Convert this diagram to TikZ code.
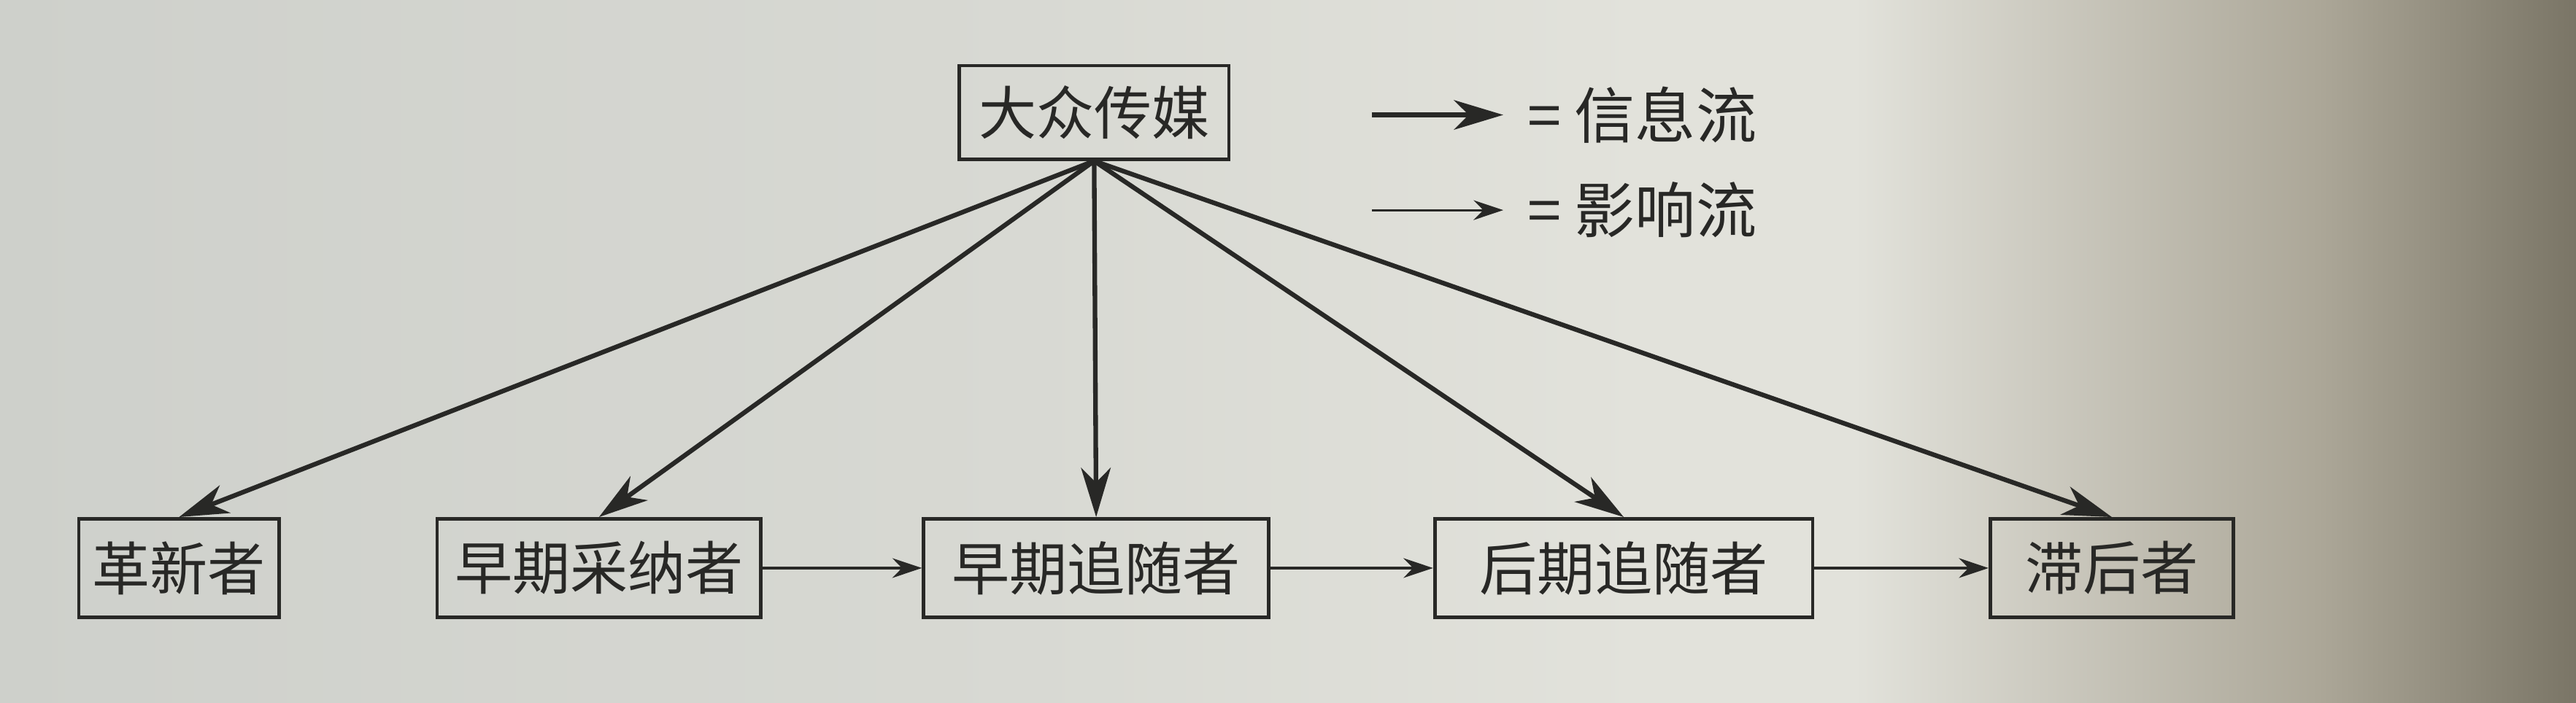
\documentclass[tikz,border=0pt]{standalone}
\usepackage{fontspec}
\newfontfamily\cjk{Noto Sans CJK SC}
\usepackage{xcolor}
\usepackage{tikz}
\usetikzlibrary{arrows.meta,positioning}
\definecolor{ink}{RGB}{40,40,38}
\definecolor{pLeft}{RGB}{206,208,203}
\definecolor{pMid}{RGB}{216,217,211}
\definecolor{pBright}{RGB}{226,226,219}
\definecolor{pShade}{RGB}{172,167,152}
\definecolor{pDark}{RGB}{122,117,102}
\pgfdeclarehorizontalshading{pagephoto}{100bp}{color(0bp)=(pLeft); color(25bp)=(pLeft); color(45bp)=(pMid); color(57bp)=(pBright); color(61bp)=(pBright); color(70bp)=(pShade); color(75bp)=(pDark); color(100bp)=(pDark)}

\begin{document}
\begin{tikzpicture}[node distance=1cm,
  box/.style={draw=ink, line width=0.6pt, inner xsep=2pt, minimum height=0.6cm, font=\cjk\fontsize{10pt}{12pt}\selectfont, text=ink},
  info/.style={draw=ink, line width=0.8pt, -{Stealth[length=3mm,width=1.8mm,inset=0.9mm]}},
  infl/.style={draw=ink, line width=0.4pt, -{Stealth[length=1.8mm,width=1.2mm]}},
  key/.style={font=\cjk\fontsize{10.5pt}{12pt}\selectfont, text=ink, inner sep=4pt, anchor=west}]
\shade[shading=pagephoto] (0,0) rectangle (15.68,-4.28);
% adopter categories
\node (innov) [box, minimum width=1.22cm] at (1.09,-3.46) {革新者};
\node (early) [box, minimum width=1.97cm, right=0.94cm of innov] {早期采纳者};
\node (emaj) [box, minimum width=2.10cm, right=0.97cm of early] {早期追随者};
\node (lmaj) [box, minimum width=2.30cm, right=0.99cm of emaj] {后期追随者};
\node (lag) [box, minimum width=1.48cm, right=1.06cm of lmaj] {滞后者};
\node (media) [box, minimum width=1.64cm, minimum height=0.57cm] at (6.66,-0.685) {大众传媒};
% key
\coordinate (k1) at (8.35,-0.70);
\node (k1t) [key] at (9.15,-0.70) {= 信息流};
\coordinate (k2) at (8.35,-1.28);
\node (k2t) [key] at (9.15,-1.28) {= 影响流};
\draw[info] (k1) -- (k1t.west);
\draw[infl] (k2) -- (k2t.west);
\draw[info] (media.south) -- (innov.north); \draw[info] (media.south) -- (early.north);
\draw[info] (media.south) -- (emaj.north); \draw[info] (media.south) -- (lmaj.north);
\draw[info] (media.south) -- (lag.north);
\draw[infl] (early) -- (emaj); \draw[infl] (emaj) -- (lmaj); \draw[infl] (lmaj) -- (lag);
\end{tikzpicture}
\end{document}
